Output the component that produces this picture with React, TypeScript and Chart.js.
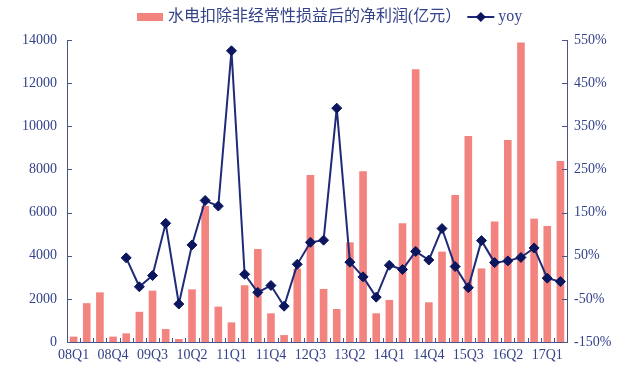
import React, { useEffect, useRef } from "react";
import { Chart, registerables } from "chart.js";

Chart.register(...registerables);

const quarters = [
  "08Q1","08Q2","08Q3","08Q4","09Q1","09Q2","09Q3","09Q4",
  "10Q1","10Q2","10Q3","10Q4","11Q1","11Q2","11Q3","11Q4",
  "12Q1","12Q2","12Q3","12Q4","13Q1","13Q2","13Q3","13Q4",
  "14Q1","14Q2","14Q3","14Q4","15Q1","15Q2","15Q3","15Q4",
  "16Q1","16Q2","16Q3","16Q4","17Q1","17Q2",
];

const profit = [
  250, 1800, 2300, 250, 400, 1400, 2380, 600,
  140, 2440, 6300, 1640, 910, 2630, 4310, 1330,
  320, 3400, 7740, 2460, 1530, 4620, 7910, 1330,
  1950, 5500, 12640, 1840, 4190, 6810, 9550, 3410,
  5590, 9360, 13880, 5720, 5380, 8390,
];

const yoy: (number | null)[] = [
  null, null, null, null, 45, -22, 4, 125,
  -62, 75, 178, 165, 525, 7, -35, -19,
  -67, 30, 81, 86, 392, 35, 1, -46,
  28, 18, 60, 40, 113, 25, -24, 85,
  34, 38, 46, 68, -2, -10,
];

const profitLabel = "水电扣除非经常性损益后的净利润(亿元）";
const yoyLabel = "yoy";

const BAR_COLOR = "#F3837E";
const LINE_COLOR = "#1F2A78";
const MARKER_COLOR = "#0B165E";
const TEXT_COLOR = "#34428A";
const AXIS_COLOR = "#4A5488";
const FONT = '"Liberation Serif", "Noto Sans CJK SC", serif';

const decorPlugin = {
  id: "decor",
  afterDraw(chart: any) {
    const ctx = chart.ctx;
    const { left, right, bottom } = chart.chartArea;
    ctx.save();
    ctx.strokeStyle = AXIS_COLOR;
    ctx.lineWidth = 1;
    const ys = chart.scales.y;
    ys.ticks.forEach((_t: any, i: number) => {
      const p = Math.round(ys.getPixelForTick(i)) + 0.5;
      ctx.beginPath();
      ctx.moveTo(left, p);
      ctx.lineTo(left + 5, p);
      ctx.stroke();
    });
    const yr = chart.scales.y1;
    yr.ticks.forEach((_t: any, i: number) => {
      const p = Math.round(yr.getPixelForTick(i)) + 0.5;
      ctx.beginPath();
      ctx.moveTo(right - 5, p);
      ctx.lineTo(right, p);
      ctx.stroke();
    });
    const n = quarters.length;
    const w = (right - left) / n;
    for (let i = 1; i < n; i++) {
      const x = Math.round(left + i * w) + 0.5;
      ctx.beginPath();
      ctx.moveTo(x, bottom);
      ctx.lineTo(x, bottom - 4);
      ctx.stroke();
    }

    // legend
    const cy = 17;
    ctx.fillStyle = BAR_COLOR;
    ctx.fillRect(137, cy - 4, 26, 8);
    ctx.font = "16px " + FONT;
    ctx.fillStyle = TEXT_COLOR;
    ctx.textBaseline = "middle";
    ctx.textAlign = "left";
    const tx = 168;
    ctx.fillText(profitLabel, tx, cy);
    const tw = ctx.measureText(profitLabel).width;
    const lx = tx + tw + 6;
    ctx.strokeStyle = LINE_COLOR;
    ctx.lineWidth = 2;
    ctx.beginPath();
    ctx.moveTo(lx, cy);
    ctx.lineTo(lx + 27, cy);
    ctx.stroke();
    const dx = lx + 13.5;
    ctx.fillStyle = MARKER_COLOR;
    ctx.beginPath();
    ctx.moveTo(dx, cy - 5);
    ctx.lineTo(dx + 5, cy);
    ctx.lineTo(dx, cy + 5);
    ctx.lineTo(dx - 5, cy);
    ctx.closePath();
    ctx.fill();
    ctx.fillStyle = TEXT_COLOR;
    ctx.fillText(yoyLabel, lx + 31, cy);
    ctx.restore();
  },
};

export default function App() {
  const ref = useRef<HTMLCanvasElement | null>(null);

  useEffect(() => {
    document.body.style.margin = "0";
    const canvas = ref.current;
    if (!canvas) return;
    const chart = new Chart(canvas, {
      type: "bar",
      data: {
        labels: quarters,
        datasets: [
          {
            type: "line",
            label: yoyLabel,
            data: yoy,
            yAxisID: "y1",
            borderColor: LINE_COLOR,
            borderWidth: 2,
            pointStyle: "rectRot",
            pointRadius: 5,
            pointBackgroundColor: MARKER_COLOR,
            pointBorderColor: MARKER_COLOR,
            pointBorderWidth: 1,
            tension: 0,
            spanGaps: false,
            order: 0,
          } as any,
          {
            type: "bar",
            label: profitLabel,
            data: profit,
            yAxisID: "y",
            backgroundColor: BAR_COLOR,
            borderWidth: 0,
            categoryPercentage: 1,
            barPercentage: 0.58,
            order: 1,
          },
        ],
      },
      options: {
        responsive: false,
        animation: false,
        layout: { padding: { top: 40, left: 0, right: 0, bottom: 0 } },
        plugins: {
          legend: { display: false },
          tooltip: { enabled: false },
        },
        scales: {
          x: {
            offset: true,
            grid: { display: false, drawTicks: false },
            border: { display: true, color: AXIS_COLOR, width: 1 },
            ticks: {
              autoSkip: false,
              maxRotation: 0,
              minRotation: 0,
              padding: 5,
              color: TEXT_COLOR,
              font: { family: FONT, size: 14 },
              callback: (_v: any, i: number) => (i % 3 === 0 ? quarters[i] : ""),
            },
            afterFit: (s: any) => {
              s.height = 26;
            },
          },
          y: {
            position: "left",
            min: 0,
            max: 14000,
            grid: { display: false, drawTicks: false },
            border: { display: true, color: AXIS_COLOR, width: 1 },
            ticks: {
              stepSize: 2000,
              padding: 10,
              color: TEXT_COLOR,
              font: { family: FONT, size: 14 },
              callback: (v: any) => String(v),
            },
            afterFit: (s: any) => {
              s.width = 67;
            },
          },
          y1: {
            position: "right",
            min: -150,
            max: 550,
            grid: { display: false, drawTicks: false },
            border: { display: true, color: AXIS_COLOR, width: 1 },
            ticks: {
              stepSize: 100,
              padding: 7,
              color: TEXT_COLOR,
              font: { family: FONT, size: 14 },
              callback: (v: any) => v + "%",
            },
            afterFit: (s: any) => {
              s.width = 69;
            },
          },
        },
      },
      plugins: [decorPlugin],
    });
    return () => chart.destroy();
  }, []);

  return (
    <div style={{ width: 636, height: 368, background: "#fff" }}>
      <canvas ref={ref} width={636} height={368} style={{ display: "block" }} />
    </div>
  );
}
